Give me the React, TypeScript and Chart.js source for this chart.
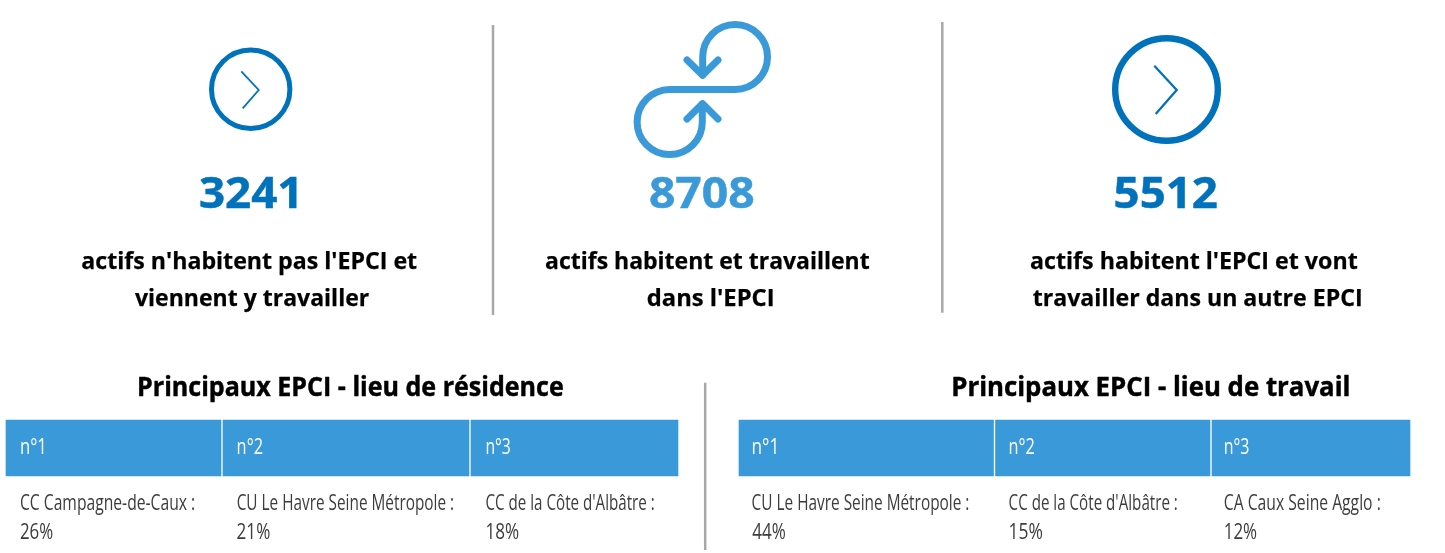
import React, { useEffect, useRef } from "react";
import { Chart, registerables } from "chart.js";

Chart.register(...registerables);

// ---- data ----
const kpiValues = [3241, 8708, 5512];
const kpiCaptions = [
  ["actifs n'habitent pas l'EPCI et", "viennent y travailler"],
  ["actifs habitent et travaillent", "dans l'EPCI"],
  ["actifs habitent l'EPCI et vont", "travailler dans un autre EPCI"],
];
const tableTitles = ["Principaux EPCI - lieu de résidence", "Principaux EPCI - lieu de travail"];
const rankLabels = ["n°1", "n°2", "n°3"];
const residenceNames = ["CC Campagne-de-Caux :", "CU Le Havre Seine Métropole :", "CC de la Côte d'Albâtre :"];
const residenceShares = [26, 21, 18];
const workNames = ["CU Le Havre Seine Métropole :", "CC de la Côte d'Albâtre :", "CA Caux Seine Agglo :"];
const workShares = [44, 15, 12];

// ---- layout and style (page pixels) ----
const W = 1445;
const H = 553;
const DARK_BLUE = "#0072bc";
const LIGHT_BLUE = "#3a9ad9";
const GREY = "#a8a8a8";
const INK = "#000000";
const BODY_INK = "#3c3c3c";
const FONT = '"Open Sans"';

const dividerSpans = [
  { x: 493, top: 25, bottom: 315 },
  { x: 942.3, top: 22, bottom: 312.7 },
  { x: 705.2, top: 382.7, bottom: 550 },
];
const headerCenter = 448;
const headerHeight = 56;
const headerCells = [
  [6, 221], [223, 469], [471, 678],
  [739, 993.5], [995.5, 1210], [1212, 1410],
];
const kpiBoxes = [[200, 296.5], [650, 754], [1115.7, 1217.3]];
const captionBoxes = [
  [[82.3, 416.7], [135, 369.3]],
  [[546, 869.3], [647.7, 772.7]],
  [[1031, 1357.3], [1032.7, 1360.7]],
];
const titleBoxes = [[139, 563.4], [953.2, 1348.5]];
const rankBoxes = [
  [20.7, 43.7], [237.4, 262.2], [486.2, 510],
  [752.3, 776], [1009.3, 1034], [1224.5, 1248.7],
];
const nameBoxes = [
  [20.7, 194.7], [237.4, 453.6], [486.2, 654.3],
  [752.3, 968.9], [1009.3, 1177.4], [1224.5, 1380.3],
];
const shareBoxes = [
  [20.7, 52.8], [237.4, 270], [486.2, 518.8],
  [752.3, 785.5], [1009.3, 1042.5], [1224.5, 1256.8],
];

function fitText(
  ctx: CanvasRenderingContext2D,
  text: string,
  left: number,
  right: number,
  baseline: number,
  font: string,
  color: string,
  embolden = 0
) {
  ctx.save();
  ctx.font = font;
  ctx.fillStyle = color;
  ctx.strokeStyle = color;
  ctx.lineWidth = embolden;
  ctx.lineJoin = "round";
  ctx.textAlign = "left";
  ctx.textBaseline = "alphabetic";
  const m = ctx.measureText(text);
  const inkLeft = m.actualBoundingBoxLeft;
  const inkWidth = m.actualBoundingBoxRight + inkLeft;
  ctx.translate(left, baseline);
  ctx.scale((right - left) / inkWidth, 1);
  ctx.fillText(text, inkLeft, 0);
  if (embolden > 0) ctx.strokeText(text, inkLeft, 0);
  ctx.restore();
}

function chevron(ctx: CanvasRenderingContext2D, pts: number[][], lw: number) {
  ctx.save();
  ctx.strokeStyle = DARK_BLUE;
  ctx.lineWidth = lw;
  ctx.lineJoin = "miter";
  ctx.beginPath();
  pts.forEach(([x, y], i) => (i ? ctx.lineTo(x, y) : ctx.moveTo(x, y)));
  ctx.stroke();
  ctx.restore();
}

function loopIcon(ctx: CanvasRenderingContext2D) {
  ctx.save();
  ctx.strokeStyle = LIGHT_BLUE;
  ctx.lineWidth = 7;
  ctx.lineCap = "round";
  ctx.lineJoin = "round";
  ctx.beginPath();
  ctx.moveTo(702.7, 75);
  ctx.lineTo(702.7, 57);
  ctx.arc(735.1, 57, 32.4, Math.PI, Math.PI / 2, false);
  ctx.lineTo(669.7, 89.4);
  ctx.arc(669.7, 122, 32.6, -Math.PI / 2, 0, true);
  ctx.lineTo(702.3, 104);
  ctx.stroke();
  ctx.beginPath();
  ctx.moveTo(687, 60);
  ctx.lineTo(702.6, 75.2);
  ctx.lineTo(718, 60);
  ctx.moveTo(687, 119);
  ctx.lineTo(702.6, 103.6);
  ctx.lineTo(718, 119);
  ctx.stroke();
  ctx.restore();
}

const pagePlugin = {
  id: "page",
  afterDatasetsDraw(chart: Chart) {
    const ctx = chart.ctx;
    chevron(ctx, [[241.3, 71.3], [258.7, 90], [242.7, 108.3]], 1.8);
    chevron(ctx, [[1154.3, 65.7], [1176.7, 90], [1155.7, 114]], 2.3);
    loopIcon(ctx);

    kpiValues.forEach((v, i) => {
      const [l, r] = kpiBoxes[i];
      fitText(ctx, String(v), l, r, 208.3, `700 43px ${FONT}`, i === 1 ? LIGHT_BLUE : DARK_BLUE, 0.5);
    });
    kpiCaptions.forEach((lines, i) =>
      lines.forEach((line, j) => {
        const [l, r] = captionBoxes[i][j];
        fitText(ctx, line, l, r, j === 0 ? 269.3 : 306, `700 24px ${FONT}`, INK, 0.25);
      })
    );
    tableTitles.forEach((t, i) => {
      const [l, r] = titleBoxes[i];
      fitText(ctx, t, l, r, 396, `700 26px ${FONT}`, INK, 0.45);
    });
    [...rankLabels, ...rankLabels].forEach((t, i) => {
      const [l, r] = rankBoxes[i];
      fitText(ctx, t, l, r, 454, `400 21px ${FONT}`, "#ffffff");
    });
    [...residenceNames, ...workNames].forEach((t, i) => {
      const [l, r] = nameBoxes[i];
      fitText(ctx, t, l, r, 510, `400 21.5px ${FONT}`, BODY_INK);
    });
    [...residenceShares, ...workShares].forEach((v, i) => {
      const [l, r] = shareBoxes[i];
      fitText(ctx, `${v}%`, l, r, 539, `400 21px ${FONT}`, BODY_INK);
    });
  },
};

export default function App() {
  const ref = useRef<HTMLCanvasElement>(null);
  useEffect(() => {
    document.body.style.margin = "0";
    document.body.style.background = "#ffffff";
    const chart = new Chart(ref.current!, {
      type: "bar",
      data: {
        datasets: [
          {
            type: "bar",
            indexAxis: "y",
            label: "En-têtes",
            data: headerCells.map((c) => ({ x: c, y: headerCenter })),
            backgroundColor: LIGHT_BLUE,
            borderWidth: 0,
            barThickness: headerHeight,
            grouped: false,
          },
          ...dividerSpans.map((d) => ({
            type: "line",
            label: "Séparateur",
            data: [{ x: d.x, y: d.top }, { x: d.x, y: d.bottom }],
            borderColor: GREY,
            borderWidth: 2.5,
            pointRadius: 0,
            fill: false,
          })),
          {
            type: "scatter",
            label: "Cercle",
            data: [{ x: 250.7, y: 89.3 }],
            pointStyle: "circle",
            pointRadius: 39.2,
            pointBorderWidth: 5,
            pointBorderColor: DARK_BLUE,
            pointBackgroundColor: "rgba(0,0,0,0)",
          },
          {
            type: "scatter",
            label: "Cercle",
            data: [{ x: 1166.5, y: 89.5 }],
            pointStyle: "circle",
            pointRadius: 51.3,
            pointBorderWidth: 6.4,
            pointBorderColor: DARK_BLUE,
            pointBackgroundColor: "rgba(0,0,0,0)",
          },
        ] as any,
      },
      options: {
        animation: false,
        responsive: false,
        maintainAspectRatio: false,
        layout: { padding: 0, autoPadding: false },
        plugins: { legend: { display: false }, tooltip: { enabled: false }, title: { display: false } },
        scales: {
          x: { type: "linear", display: false, min: 0, max: W, offset: false },
          y: { type: "linear", display: false, min: 0, max: H, reverse: true, offset: false },
        },
      } as any,
      plugins: [pagePlugin as any],
    });
    return () => chart.destroy();
  }, []);
  return <canvas ref={ref} width={W} height={H} style={{ display: "block" }} />;
}
